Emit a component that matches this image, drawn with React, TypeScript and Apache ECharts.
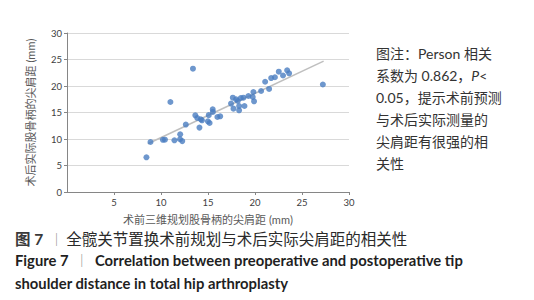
import React, { useEffect, useRef } from "react";
import * as echarts from "echarts";

const pointsX = [
  8.45, 8.88, 10.2, 10.42, 11.0, 11.43, 12.04, 12.02, 12.26, 12.64, 13.4,
  13.65, 13.86, 14.09, 14.23, 14.36, 14.99, 15.17, 15.08, 15.5, 15.52, 16.0,
  16.3, 17.45, 17.64, 17.71, 17.99, 18.17, 18.31, 18.31, 18.49, 18.77, 18.88,
  19.3, 19.76, 19.83, 19.9, 20.65, 21.08, 21.5, 21.72, 22.12, 22.53, 22.98,
  23.42, 23.63, 27.22,
];
const pointsY = [
  6.55, 9.43, 9.85, 9.87, 16.98, 9.75, 10.89, 9.95, 9.6, 12.72, 23.27, 14.47,
  13.96, 12.15, 13.72, 13.53, 13.34, 13.02, 14.5, 15.6, 15.1, 14.15, 14.28,
  16.68, 17.8, 15.73, 17.48, 17.17, 16.23, 15.41, 17.74, 17.8, 16.23, 18.11,
  17.92, 18.87, 17.11, 19.06, 20.8, 19.45, 21.5, 21.65, 22.7, 21.98, 22.96,
  22.4, 20.28,
];
const trendX = [8.6, 27.3];
const trendY = [9.1, 24.7];

const axisTicks = [0, 5, 10, 15, 20, 25, 30];

const xTitle = "术前三维规划股骨柄的尖肩距 (mm)";
const yTitle = "术后实际股骨柄的尖肩距 (mm)";

const FONT = "Lato, 'Noto Sans CJK SC', sans-serif";

export default function App() {
  const ref = useRef<HTMLDivElement>(null);
  useEffect(() => {
    if (!ref.current) return;
    const chart = echarts.init(ref.current, undefined, { renderer: "svg" });
    const scatterData = pointsX.map((x, i) => [x, pointsY[i]]);
    const trendData = trendX.map((x, i) => [x, trendY[i]]);
    chart.setOption({
      animation: false,
      backgroundColor: "#ffffff",
      grid: { left: 67, top: 33, right: 185, bottom: 108, containLabel: false },
      xAxis: {
        type: "value",
        min: axisTicks[0],
        max: axisTicks[axisTicks.length - 1],
        interval: 5,
        name: xTitle,
        nameLocation: "middle",
        nameGap: 22,
        nameTextStyle: { fontFamily: FONT, fontSize: 11, color: "#595959" },
        axisLine: { show: true, lineStyle: { color: "#868686", width: 1 } },
        axisTick: { show: true, length: 3, lineStyle: { color: "#868686" } },
        axisLabel: {
          showMinLabel: false,
          margin: 6,
          fontFamily: FONT,
          fontSize: 9.5,
          color: "#404040",
        },
        splitLine: { show: false },
      },
      yAxis: {
        type: "value",
        min: axisTicks[0],
        max: axisTicks[axisTicks.length - 1],
        interval: 5,
        name: yTitle,
        nameLocation: "middle",
        nameGap: 31,
        nameTextStyle: { fontFamily: FONT, fontSize: 11, color: "#595959" },
        axisLine: { show: true, lineStyle: { color: "#868686", width: 1 } },
        axisTick: { show: true, length: 3, lineStyle: { color: "#868686" } },
        axisLabel: { margin: 5, fontFamily: FONT, fontSize: 9.5, color: "#404040" },
        splitLine: { show: true, lineStyle: { color: "#d9d9d9", width: 1 } },
      },
      series: [
        {
          type: "line",
          data: trendData,
          showSymbol: false,
          symbol: "none",
          lineStyle: { color: "#bfbfbf", width: 1.5 },
          z: 1,
        },
        {
          type: "scatter",
          data: scatterData,
          symbolSize: 6,
          itemStyle: { color: "#4a7dc0" },
          z: 2,
        },
      ],
      graphic: [
        {
          type: "text",
          left: 376,
          top: 46,
          style: {
            text:
              "{a|图注：Person 相关}\n{a|系数为 0.862，}{i|P}{a|<}\n{a|0.05，提示术前预测}\n{a|与术后实际测量的}\n{a|尖肩距有很强的相}\n{a|关性}",
            rich: {
              a: { fontFamily: FONT, fontSize: 14, lineHeight: 22, fill: "#333333" },
              i: {
                fontFamily: FONT,
                fontSize: 14,
                lineHeight: 22,
                fontStyle: "italic",
                fill: "#333333",
              },
            },
          },
        },
        {
          type: "text",
          left: 15,
          top: 231,
          style: {
            text: "{b|图 7}{s|  ｜ }{c|全髋关节置换术前规划与术后实际尖肩距的相关性}",
            rich: {
              b: { fontFamily: FONT, fontSize: 15.5, fontWeight: "bold", fill: "#3a3a3a" },
              s: { fontFamily: FONT, fontSize: 13, fill: "#888888" },
              c: { fontFamily: FONT, fontSize: 15.5, fill: "#2a2a2a" },
            },
          },
        },
        {
          type: "text",
          left: 15,
          top: 253,
          style: {
            text:
              "{e|Figure 7}{s|  ｜  }{e|Correlation between preoperative and postoperative tip}\n{e|shoulder distance in total hip arthroplasty}",
            rich: {
              e: {
                fontFamily: FONT,
                fontSize: 14.8,
                fontWeight: "bold",
                lineHeight: 23,
                fill: "#1f1f1f",
              },
              s: { fontFamily: FONT, fontSize: 13, lineHeight: 23, fill: "#888888" },
            },
          },
        },
      ],
    });
    return () => chart.dispose();
  }, []);
  return (
    <div
      ref={ref}
      style={{ position: "absolute", left: 0, top: 0, width: 534, height: 300 }}
    />
  );
}
